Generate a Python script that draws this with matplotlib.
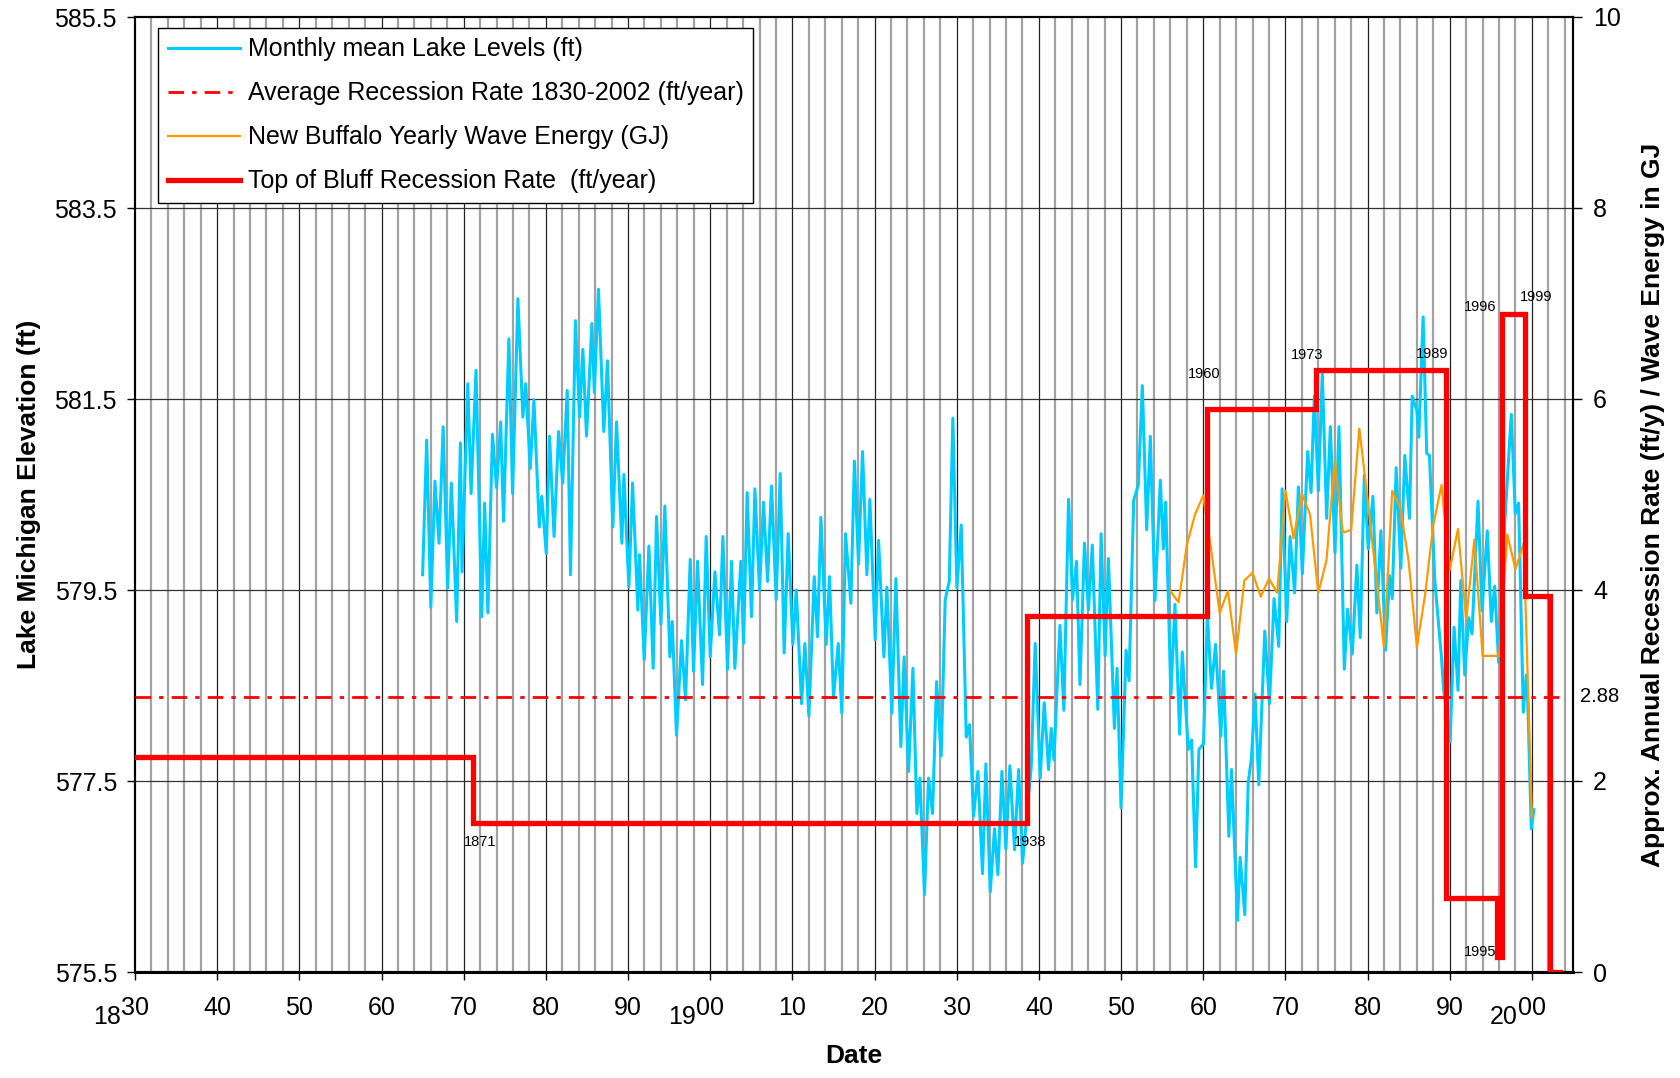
import matplotlib
matplotlib.use("Agg")
import matplotlib.pyplot as plt
from matplotlib.lines import Line2D

plt.rcParams['font.family'] = ['Liberation Sans', 'DejaVu Sans']

# ---------------- data ----------------
lake_years = [
    1865.0, 1865.5, 1866.0, 1866.5, 1867.0, 1867.5, 1868.05, 1868.5, 1869.15, 1869.6,
    1869.8, 1870.5, 1870.9, 1871.5, 1872.2, 1872.55, 1872.95, 1873.5, 1874.0, 1874.5,
    1874.85, 1875.5, 1875.95, 1876.6, 1877.2, 1877.55, 1878.1, 1878.55, 1879.2, 1879.5,
    1880.05, 1880.45, 1881.0, 1881.55, 1882.05, 1882.6, 1883.0, 1883.6, 1884.1, 1884.5,
    1884.95, 1885.6, 1885.9, 1886.4, 1887.05, 1887.5, 1888.15, 1888.6, 1889.25, 1889.5,
    1890.1, 1890.55, 1891.2, 1891.4, 1891.97, 1892.54, 1893.06, 1893.47, 1894.0, 1894.48,
    1895.09, 1895.38, 1895.9, 1896.51, 1897.0, 1897.57, 1897.97, 1898.46, 1899.07, 1899.51,
    1900.0, 1900.57, 1901.14, 1901.54, 1902.11, 1902.6, 1903.0, 1903.73, 1904.06, 1904.5,
    1905.03, 1905.44, 1906.0, 1906.49, 1906.98, 1907.46, 1908.03, 1908.52, 1909.0, 1909.49,
    1910.06, 1910.47, 1911.12, 1911.52, 1912.01, 1912.66, 1913.06, 1913.47, 1914.12, 1914.52,
    1915.0, 1915.58, 1916.02, 1916.47, 1917.12, 1917.55, 1918.05, 1918.54, 1919.07, 1919.43,
    1920.08, 1920.49, 1921.14, 1921.5, 1922.11, 1922.6, 1923.2, 1923.6, 1924.14, 1924.67,
    1925.15, 1925.52, 1926.08, 1926.57, 1927.06, 1927.55, 1928.11, 1928.6, 1929.09, 1929.53,
    1930.02, 1930.55, 1931.16, 1931.56, 1932.05, 1932.58, 1933.14, 1933.55, 1934.08, 1934.6,
    1935.01, 1935.5, 1935.98, 1936.47, 1937.04, 1937.53, 1938.01, 1939.07, 1939.55, 1940.16,
    1940.65, 1941.18, 1941.5, 1941.83, 1942.56, 1943.04, 1943.61, 1944.1, 1944.58, 1945.0,
    1945.55, 1946.03, 1946.5, 1947.17, 1947.57, 1948.06, 1948.46, 1949.19, 1949.51, 1950.0,
    1950.61, 1950.97, 1951.54, 1952.1, 1952.59, 1953.12, 1953.56, 1954.13, 1954.78, 1955.14,
    1955.43, 1956.07, 1956.56, 1957.13, 1957.45, 1958.18, 1958.58, 1959.07, 1959.47, 1960.04,
    1960.5, 1961.01, 1961.5, 1962.15, 1962.47, 1963.12, 1963.44, 1964.17, 1964.49, 1965.06,
    1965.47, 1965.87, 1966.3, 1966.76, 1967.49, 1968.06, 1968.62, 1969.19, 1969.6, 1970.16,
    1970.57, 1971.12, 1971.58, 1972.06, 1972.71, 1973.12, 1973.52, 1974.01, 1974.49, 1975.02,
    1975.47, 1976.03, 1976.52, 1977.17, 1977.57, 1978.14, 1978.7, 1979.11, 1979.6, 1980.08,
    1980.65, 1981.13, 1981.62, 1982.19, 1982.67, 1983.0, 1983.48, 1984.05, 1984.53, 1985.1,
    1985.43, 1986.0, 1986.23, 1986.76, 1987.2, 1987.53, 1988.18, 1988.99, 1989.23, 1990.04,
    1990.53, 1991.01, 1991.34, 1991.82, 1992.31, 1992.71, 1993.44, 1993.93, 1994.57, 1995.06,
    1995.47, 1995.95, 1996.68, 1997.49, 1997.98, 1998.38, 1998.95, 1999.31, 1999.51, 1999.92,
    2000.24,
]
lake_levels = [
    579.66, 581.07, 579.32, 580.64, 579.99, 581.21, 579.52, 580.62, 579.17, 581.04,
    579.69, 581.66, 580.51, 581.80, 579.22, 580.41, 579.26, 581.13, 580.57, 581.26,
    580.22, 582.13, 580.51, 582.55, 581.31, 581.66, 580.77, 581.49, 580.16, 580.48,
    579.88, 581.11, 580.06, 581.16, 580.62, 581.59, 579.66, 582.32, 581.31, 582.02,
    581.11, 582.29, 581.57, 582.65, 581.16, 581.90, 580.16, 581.26, 579.99, 580.71,
    579.53, 580.62, 579.29, 579.87, 578.77, 579.96, 578.68, 580.27, 579.14, 580.38,
    578.80, 579.17, 577.98, 578.97, 578.35, 579.82, 578.65, 579.80, 578.51, 580.06,
    578.80, 579.69, 579.03, 580.06, 578.67, 579.80, 578.68, 579.80, 578.94, 580.52,
    579.22, 580.56, 579.50, 580.42, 579.59, 580.59, 579.40, 580.72, 578.84, 580.09,
    578.93, 579.50, 578.31, 578.94, 578.18, 579.64, 579.01, 580.26, 578.93, 579.64,
    578.37, 578.94, 578.21, 580.09, 579.36, 580.85, 579.77, 580.95, 579.66, 580.45,
    578.98, 580.02, 578.80, 579.53, 578.21, 579.62, 577.86, 578.80, 577.60, 578.68,
    577.16, 577.53, 576.31, 577.53, 577.16, 578.54, 577.76, 579.40, 579.59, 581.30,
    579.52, 580.18, 577.96, 578.09, 577.13, 577.60, 576.53, 577.68, 576.34, 577.00,
    576.52, 577.60, 576.79, 577.66, 576.78, 577.62, 576.64, 577.65, 578.94, 577.53,
    578.32, 577.62, 578.05, 577.72, 579.13, 578.24, 580.45, 579.40, 579.80, 578.51,
    579.99, 579.29, 579.97, 578.25, 580.09, 578.81, 579.83, 578.05, 578.68, 577.22,
    578.87, 578.55, 580.44, 580.60, 581.64, 580.13, 581.11, 579.39, 580.65, 579.93,
    580.42, 578.41, 579.35, 577.99, 578.85, 577.83, 577.93, 576.60, 577.83, 577.89,
    579.25, 578.47, 578.93, 577.97, 578.65, 576.92, 577.62, 576.04, 576.70, 576.10,
    577.48, 577.74, 578.41, 577.46, 579.07, 578.31, 579.41, 578.91, 580.56, 579.17,
    580.06, 579.47, 580.58, 579.67, 580.95, 580.52, 581.53, 580.54, 581.77, 580.25,
    581.21, 579.89, 581.21, 578.67, 579.30, 578.83, 579.76, 579.00, 580.70, 579.93,
    580.48, 579.26, 580.12, 578.87, 579.65, 579.41, 580.78, 579.73, 580.91, 580.25,
    581.53, 581.38, 581.10, 582.36, 580.93, 580.91, 579.60, 578.80, 578.48, 577.91,
    579.11, 578.45, 579.60, 578.61, 579.21, 579.04, 580.43, 579.28, 580.12, 579.17,
    579.54, 578.74, 580.19, 581.34, 580.30, 580.41, 578.22, 578.61, 578.30, 577.00,
    577.20,
]

wave_years = list(range(1956, 2001))
wave_energy = [
    3.99, 3.87, 4.47, 4.79, 4.99, 4.40, 3.76, 3.99, 3.33, 4.10,
    4.18, 3.93, 4.12, 3.97, 5.04, 4.54, 5.01, 4.79, 3.97, 4.31,
    5.36, 4.60, 4.63, 5.69, 4.95, 4.17, 3.40, 5.04, 4.86, 4.30,
    3.40, 3.95, 4.68, 5.10, 4.21, 4.64, 3.69, 4.53, 3.31, 3.31,
    3.31, 4.58, 4.22, 4.49, 1.62,
]

rate_edges = [1830, 1871.1, 1938.5, 1960.4, 1973.7, 1989.5, 1995.8, 1996.3, 1999.1, 2002.2, 2003.4]
rate_values = [2.25, 1.56, 3.73, 5.90, 6.30, 0.77, 0.16, 6.89, 3.94, 0.0]

avg_rate = 2.88
avg_years = [1830, 2004]

change_labels = ["1871", "1938", "1960", "1973", "1989", "1995", "1996", "1999"]
change_label_pos = [(1872.0, 1.36), (1938.9, 1.36), (1960.1, 6.26), (1972.6, 6.46),
                    (1987.9, 6.47), (1993.7, 0.21), (1993.7, 6.96), (2000.5, 7.07)]

x_ticks = list(range(1830, 2001, 10))
x_ticklabels = ["30", "40", "50", "60", "70", "80", "90", "00", "10", "20",
                "30", "40", "50", "60", "70", "80", "90", "00"]
century_labels = ["18", "19", "20"]
century_years = [1830, 1900, 2000]
left_ticks = [575.5, 577.5, 579.5, 581.5, 583.5, 585.5]
right_ticks = [0, 2, 4, 6, 8, 10]

legend_labels = ["Monthly mean Lake Levels (ft)",
                 "Average Recession Rate 1830-2002 (ft/year)",
                 "New Buffalo Yearly Wave Energy (GJ)",
                 "Top of Bluff Recession Rate  (ft/year)"]

# ---------------- figure ----------------
W, H = 1680, 1078
fig = plt.figure(figsize=(W / 100, H / 100), dpi=100)
L, R, T, B = 135, 1573, 17, 972
ax = fig.add_axes([L / W, 1 - B / H, (R - L) / W, (B - T) / H])
ax2 = ax.twinx()

BLUE = '#00CCFF'
ORANGE = '#FF9900'
RED = '#FF0000'

ax.set_xlim(1830, 2005)
ax.set_ylim(575.5, 585.5)
ax2.set_ylim(0, 10)

# grid
for yr in range(1832, 2005, 2):
    if yr % 10 != 0:
        ax.axvline(yr, color='#a2a2a2', lw=1.6, zorder=0.5)
for yr in range(1840, 2005, 10):
    ax.axvline(yr, color='#222222', lw=0.9, zorder=0.6)
for v in left_ticks[1:-1]:
    ax.axhline(v, color='#333333', lw=0.9, zorder=0.6)

# series
ax.plot(lake_years, lake_levels, color=BLUE, lw=2.2, zorder=2)

ax2.plot(avg_years, [avg_rate, avg_rate], color=RED, lw=2.0,
         dashes=(5.6, 2.9, 1.6, 2.9), zorder=3)
ax2.plot(wave_years, wave_energy, color=ORANGE, lw=1.6, zorder=3)
ax2.step(rate_edges, rate_values + [rate_values[-1]], where='post', color=RED,
         lw=3.8, solid_joinstyle='miter', zorder=4)

for txt, (xx, yy) in zip(change_labels, change_label_pos):
    ax2.text(xx, yy, txt, fontsize=10.5, ha='center', va='center', zorder=5)

ax2.text(2005.85, avg_rate, "2.88", fontsize=14.5, ha='left', va='center', clip_on=False)

# ticks
ax.set_xticks(x_ticks)
ax.set_xticklabels(x_ticklabels)
ax.set_yticks(left_ticks)
ax.set_yticklabels([f"{v:.1f}" for v in left_ticks])
ax2.set_yticks(right_ticks)
ax2.set_yticklabels([str(v) for v in right_ticks])
ax.tick_params(axis='x', direction='out', length=6, width=1.0, pad=11.5, labelsize=18)
ax.tick_params(axis='y', direction='out', length=6, width=1.0, pad=7, labelsize=18)
ax2.tick_params(axis='y', direction='out', length=6.5, width=1.0, pad=8, labelsize=18)

for cl, cy in zip(century_labels, century_years):
    ax.annotate(cl, xy=(cy, 0), xycoords=('data', 'axes fraction'),
                xytext=(-20, -32.5), textcoords='offset points',
                ha='center', va='center', fontsize=18, annotation_clip=False)

for a in (ax, ax2):
    for s in a.spines.values():
        s.set_linewidth(1.5)
        s.set_color('black')
ax.spines['bottom'].set_linewidth(2.2)

# axis titles
fig.text(854 / W, 1 - 1056 / H, "Date", fontsize=19, fontweight='bold', ha='center', va='center')
fig.text(29 / W, 1 - 494 / H, "Lake Michigan Elevation (ft)", fontsize=19, fontweight='bold',
         ha='center', va='center', rotation=90)
fig.text(1653 / W, 1 - 505 / H, "Approx. Annual Recession Rate (ft/y) / Wave Energy in GJ",
         fontsize=19, fontweight='bold', ha='center', va='center', rotation=90)

# legend
handles = [
    Line2D([], [], color=BLUE, lw=2.2),
    Line2D([], [], color=RED, lw=2.0, dashes=(5.6, 2.9, 1.6, 2.9)),
    Line2D([], [], color=ORANGE, lw=1.6),
    Line2D([], [], color=RED, lw=3.8),
]
leg = ax2.legend(handles, legend_labels, loc='upper left',
                 bbox_to_anchor=((158 - L) / (R - L), (B - 28) / (B - T)),
                 borderaxespad=0, fontsize=18, handlelength=2.9, handletextpad=0.3,
                 borderpad=0.38, labelspacing=0.8, fancybox=False, framealpha=1,
                 edgecolor='black')
leg.get_frame().set_linewidth(1.0)
leg.set_zorder(10)

fig.savefig("out.png", dpi=100)
